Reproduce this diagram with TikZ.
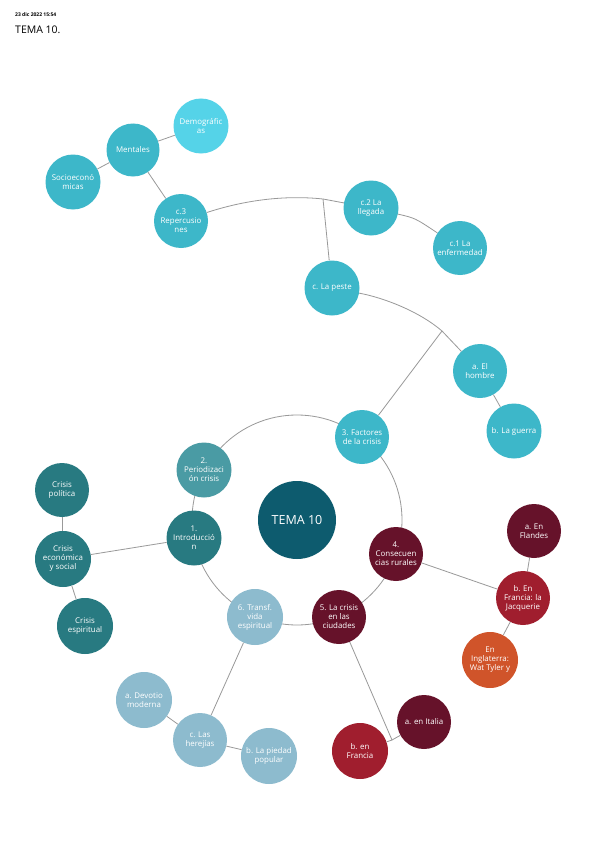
\documentclass[tikz,border=0pt]{standalone}
\usepackage{fontspec}
\setmainfont{Open Sans}
\definecolor{cyanA}{HTML}{3DB7C9}
\definecolor{cyanL}{HTML}{55D3E8}
\definecolor{tealP}{HTML}{4A9BA4}
\definecolor{tealD}{HTML}{287A81}
\definecolor{temaC}{HTML}{0D5B6E}
\definecolor{maroonC}{HTML}{66122A}
\definecolor{redC}{HTML}{A01E2E}
\definecolor{orangeC}{HTML}{D0542A}
\definecolor{blueG}{HTML}{8DBBCE}
\definecolor{lineC}{HTML}{999999}
\tikzset{
  bub/.style={circle, minimum size=55pt, inner sep=0pt, align=center, text=white,
    font=\fontsize{7.9}{9}\selectfont},
  conn/.style={draw=lineC, line width=0.8pt},
}
\begin{document}
\begin{tikzpicture}[x=1pt,y=-1pt]
\useasboundingbox (0,0) rectangle (600,848);
\fill[white] (0,0) rectangle (600,848);
\node[anchor=base west, inner sep=0pt, font=\fontsize{5}{6}\selectfont\bfseries] (date) at (15,17) {23 dic 2022 15:54};
\node[anchor=base west, inner sep=0pt, font=\fontsize{10.5}{12}\selectfont] (title) at (15,34) {TEMA 10.};

% ring
\coordinate (c) at (297,520);
\draw[conn] (c) circle (105);

% junctions
\coordinate (j1) at (323,199);
\coordinate (j2) at (442,331);
\coordinate (j3) at (392,740);

% nodes
\node[bub, fill=cyanL] (demo) at (201,126) {Demográfic\\as};
\node[bub, fill=cyanA, minimum size=53pt] (ment) at (133,150) {Mentales};
\node[bub, fill=cyanA] (socio) at (73,182) {Socioeconó\\micas};
\node[bub, fill=cyanA, minimum size=54pt] (rep) at (181,221) {c.3\\Repercusio\\nes};
\node[bub, fill=cyanA] (lleg) at (371,208) {c.2 La\\llegada};
\node[bub, fill=cyanA, minimum size=54pt] (enf) at (460,248) {c.1 La\\enfermedad};
\node[bub, fill=cyanA] (peste) at (332,288) {c. La peste};
\node[bub, fill=cyanA, minimum size=54pt] (hombre) at (480,371) {a. El\\hombre};
\node[bub, fill=cyanA] (guerra) at (514,431) {b. La guerra};
\node[bub, fill=cyanA, minimum size=54pt] (fact) at (362,437) {3. Factores\\de la crisis};
\node[bub, fill=tealP] (perio) at (204,470) {2.\\Periodizaci\\ón crisis};
\node[bub, fill=tealD] (intro) at (194,538) {1.\\Introducció\\n};
\node[bub, fill=temaC, minimum size=78pt, font=\fontsize{12.5}{14}\selectfont] (tema) at (c) {TEMA 10};
\node[bub, fill=tealD, minimum size=54pt] (cpol) at (62,490) {Crisis\\política};
\node[bub, fill=tealD, minimum size=56pt] (ceco) at (63,559) {Crisis\\económica\\y social};
\node[bub, fill=tealD, minimum size=56pt] (cesp) at (85,626) {Crisis\\espiritual};
\node[bub, fill=maroonC, minimum size=54pt] (cons) at (396,554) {4.\\Consecuen\\cias rurales};
\node[bub, fill=maroonC, minimum size=54pt] (fland) at (534,531) {a. En\\Flandes};
\node[bub, fill=redC, minimum size=54pt] (jacq) at (523,598) {b. En\\Francia: la\\Jacquerie};
\node[bub, fill=orangeC, minimum size=56pt] (ingl) at (490,660) {En\\Inglaterra:\\Wat Tyler y};
\node[bub, fill=maroonC, minimum size=54pt] (ciud) at (339,617) {5. La crisis\\en las\\ciudades};
\node[bub, fill=blueG, minimum size=56pt] (transf) at (255,617) {6. Transf.\\vida\\espiritual};
\node[bub, fill=blueG, minimum size=56pt] (devo) at (144,700) {a. Devotio\\moderna};
\node[bub, fill=blueG, minimum size=54pt] (here) at (200,740) {c. Las\\herejías};
\node[bub, fill=blueG, minimum size=56pt] (piedad) at (269,756) {b. La piedad\\popular};
\node[bub, fill=maroonC, minimum size=54pt] (ital) at (424,722) {a. en Italia};
\node[bub, fill=redC, minimum size=56pt] (fran) at (360,751) {b. en\\Francia};

% connectors
\path[conn] (ment) -- (demo);
\path[conn] (ment) -- (socio);
\path[conn] (ment) -- (rep);
\path[conn] (rep) .. controls (245,200) and (285,195) .. (j1) -- (lleg);
\path[conn] (j1) -- (peste);
\path[conn] (lleg) .. controls (415,218) .. (enf);
\path[conn] (peste) .. controls (385,298) and (420,312) .. (j2) -- (hombre);
\path[conn] (j2) -- (fact);
\path[conn] (hombre) -- (guerra);
\path[conn] (intro) -- (ceco);
\path[conn] (cpol) -- (ceco);
\path[conn] (ceco) -- (cesp);
\path[conn] (cons) -- (jacq);
\path[conn] (fland) -- (jacq);
\path[conn] (jacq) -- (ingl);
\path[conn] (ciud) -- (j3);
\path[conn] (j3) -- (ital);
\path[conn] (j3) -- (fran);
\path[conn] (transf) -- (here);
\path[conn] (here) -- (devo);
\path[conn] (here) -- (piedad);
\end{tikzpicture}
\end{document}
